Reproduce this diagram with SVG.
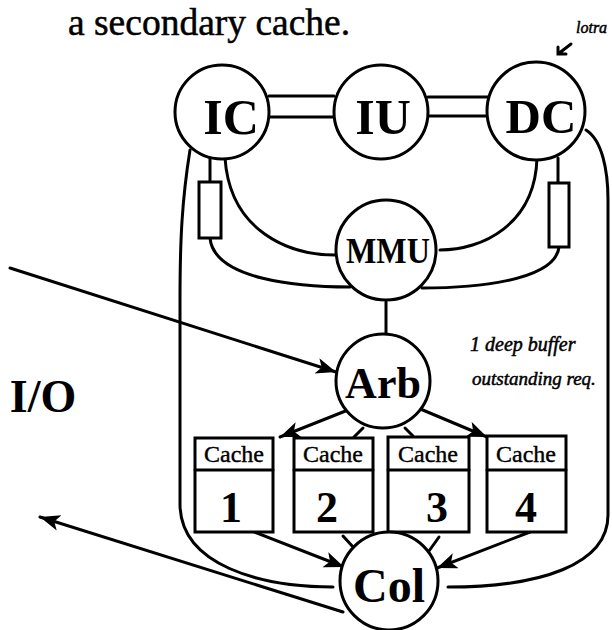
<svg xmlns="http://www.w3.org/2000/svg" width="612" height="630" viewBox="0 0 612 630">
<defs>
<style>
.n{fill:#fff;stroke:#000;stroke-width:3}
.c{fill:none;stroke:#000;stroke-width:3;stroke-linecap:round}
.t{font-family:"Liberation Serif","Times New Roman",serif;font-weight:bold;fill:#000;text-anchor:middle}
.ca{font-family:"Liberation Serif","Times New Roman",serif;font-size:24px;fill:#000;stroke:#000;stroke-width:0.4;text-anchor:middle}
.h{font-family:"Liberation Serif","Times New Roman",serif;font-style:italic;fill:#000;stroke:#000;stroke-width:0.5}
</style>
<marker id="ah" markerUnits="userSpaceOnUse" markerWidth="24" markerHeight="18" refX="20" refY="8" orient="auto">
<path d="M0,0 L20,8 L0,16 L5,8 Z" fill="#000"/>
</marker>
</defs>
<rect width="612" height="630" fill="#fff"/>
<text x="68" y="35" font-family="Liberation Serif,Times New Roman,serif" font-size="37.5" fill="#000" stroke="#000" stroke-width="0.5">a secondary cache.</text>
<g id="connectors">
<line class="c" x1="269" y1="96" x2="334" y2="96"/>
<line class="c" x1="269" y1="117" x2="334" y2="117"/>
<line class="c" x1="428" y1="97" x2="488" y2="97"/>
<line class="c" x1="428" y1="116" x2="488" y2="116"/>
<path class="c" d="M225,158 C230,232 290,255 335,255"/>
<path class="c" d="M537,158 C535,225 482,250 440,250"/>
<line class="c" x1="210" y1="157" x2="210" y2="182"/>
<line class="c" x1="558" y1="158" x2="558" y2="183"/>
<path class="c" d="M210,238 C214,280 300,287 350,287"/>
<path class="c" d="M559,247 C555,282 470,288 422,288"/>
<line class="c" x1="386" y1="302" x2="386" y2="334"/>
<path class="c" d="M190,150 C182,200 180,240 180,300 L180,505 C181,565 260,587 333,587"/>
<path class="c" d="M586,130 C602,140 608,170 608,200 L608,515 C608,565 540,587 448,587"/>
<line class="c" x1="10" y1="268" x2="336" y2="372" marker-end="url(#ah)"/>
<line class="c" x1="348" y1="410" x2="280" y2="437" marker-end="url(#ah)"/>
<line class="c" x1="418" y1="408" x2="487" y2="437" marker-end="url(#ah)"/>
<line class="c" x1="363" y1="428" x2="354" y2="437"/>
<line class="c" x1="405" y1="428" x2="413" y2="436"/>
<line class="c" x1="252" y1="531" x2="344" y2="567" marker-end="url(#ah)"/>
<line class="c" x1="530" y1="532" x2="437" y2="568" marker-end="url(#ah)"/>
<line class="c" x1="343" y1="536" x2="354" y2="548"/>
<line class="c" x1="439" y1="537" x2="429" y2="551"/>
<line class="c" x1="343" y1="612" x2="40" y2="517" marker-end="url(#ah)"/>
</g>
<g id="IC"><circle class="n" cx="222" cy="112" r="47"/><text class="t" x="231" y="134" font-size="50">IC</text></g>
<g id="IU"><circle class="n" cx="381" cy="112" r="47"/><text class="t" x="383" y="134" font-size="50">IU</text></g>
<g id="DC"><circle class="n" cx="536" cy="111" r="49"/><text class="t" x="541" y="133" font-size="49">DC</text></g>
<g id="bufL"><rect class="n" x="199" y="182" width="22" height="56"/></g>
<g id="bufR"><rect class="n" x="549" y="183" width="20" height="64"/></g>
<g id="MMU"><circle class="n" cx="386" cy="250" r="50"/><text class="t" x="388" y="263" font-size="36" textLength="84" lengthAdjust="spacingAndGlyphs">MMU</text></g>
<g id="Arb"><circle class="n" cx="383" cy="381" r="47"/><text class="t" x="383" y="398" font-size="44">Arb</text></g>
<g id="Cache1"><rect class="n" x="195" y="438" width="78" height="94"/><line class="c" x1="195" y1="470" x2="273" y2="470"/><text class="ca" x="234" y="462">Cache</text><text class="t" x="231" y="522" font-size="44">1</text></g>
<g id="Cache2"><rect class="n" x="294" y="438" width="79" height="94"/><line class="c" x1="294" y1="470" x2="373" y2="470"/><text class="ca" x="333" y="462">Cache</text><text class="t" x="327" y="522" font-size="44">2</text></g>
<g id="Cache3"><rect class="n" x="388" y="437" width="81" height="95"/><line class="c" x1="388" y1="470" x2="469" y2="470"/><text class="ca" x="428" y="462">Cache</text><text class="t" x="437" y="522" font-size="44">3</text></g>
<g id="Cache4"><rect class="n" x="487" y="436" width="79" height="96"/><line class="c" x1="487" y1="470" x2="566" y2="470"/><text class="ca" x="526" y="462">Cache</text><text class="t" x="526" y="522" font-size="44">4</text></g>
<g id="Col"><circle class="n" cx="389" cy="581" r="49"/><text class="t" x="389" y="602" font-size="48">Col</text></g>
<text class="t" x="43" y="412" font-size="46">I/O</text>
<text class="h" x="470" y="351" font-size="20">1 deep buffer</text>
<text class="h" x="472" y="385" font-size="19">outstanding req.</text>
<text class="h" x="576" y="33" font-size="16">lotra</text>
<path class="c" d="M571,44 L558,54 M558,47 L558,54 L566,54" stroke-width="1.5"/>
</svg>
